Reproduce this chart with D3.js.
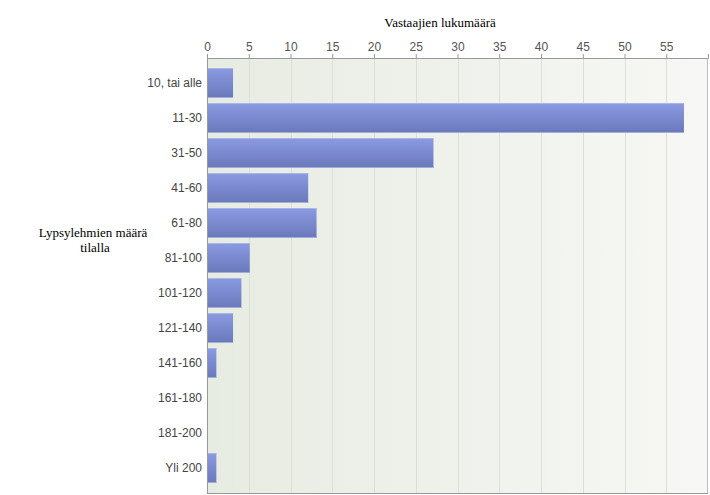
<!DOCTYPE html>
<html><head><meta charset="utf-8">
<script src="https://cdn.jsdelivr.net/npm/d3@7"></script>
<style>body{margin:0;background:#fff}svg{display:block}</style>
</head><body>
<svg id="c" width="710" height="495"></svg>
<script>
const categories = ["10, tai alle","11-30","31-50","41-60","61-80","81-100","101-120","121-140","141-160","161-180","181-200","Yli 200"];
const values = [3,57,27,12,13,5,4,3,1,0,0,1];
const ticks = [0,5,10,15,20,25,30,35,40,45,50,55];
const xTitle = "Vastaajien lukumäärä";
const yTitle = ["Lypsylehmien määrä","tilalla"];

const svg = d3.select("#c");
const L = 207, R = 708, T = 58, B = 493;
const x = d3.scaleLinear().domain([0,60]).range([L,R]);
const y = d3.scaleBand().domain(categories).range([T,B]).paddingInner(0.143).paddingOuter(0.286);

const defs = svg.append("defs");
const bg = defs.append("linearGradient").attr("id","bg").attr("x1","0").attr("x2","1").attr("y1","0").attr("y2","0");
bg.append("stop").attr("offset","0").attr("stop-color","#e7ece2");
bg.append("stop").attr("offset","1").attr("stop-color","#f7f8f5");
const bar = defs.append("linearGradient").attr("id","bar").attr("x1","0").attr("x2","0").attr("y1","0").attr("y2","1");
bar.append("stop").attr("offset","0").attr("stop-color","#8b9be2");
bar.append("stop").attr("offset","1").attr("stop-color","#6a78bb");

svg.append("rect").attr("x",L).attr("y",T).attr("width",R-L).attr("height",B-T).attr("fill","url(#bg)");

// gridlines
svg.append("g").selectAll("line").data(ticks.slice(1)).join("line")
  .attr("x1",d=>Math.round(x(d))+0.5).attr("x2",d=>Math.round(x(d))+0.5).attr("y1",T).attr("y2",B)
  .attr("stroke","#dcdfd8").attr("stroke-width",1);

// bars
const g = svg.append("g");
g.selectAll("rect.b").data(values).join("rect").attr("class","b")
  .attr("x",x(0)).attr("y",(d,i)=>y(categories[i]))
  .attr("width",d=>d>0?x(d)-x(0)+1:0).attr("height",y.bandwidth())
  .attr("fill","url(#bar)");
g.selectAll("rect.t").data(values).join("rect").attr("class","t")
  .attr("x",x(0)).attr("y",(d,i)=>y(categories[i]))
  .attr("width",d=>d>0?x(d)-x(0)+1:0).attr("height",d=>d>0?1:0)
  .attr("fill","#a9b4e8");
g.selectAll("rect.s").data(values).join("rect").attr("class","s")
  .attr("x",x(0)).attr("y",(d,i)=>y(categories[i])+y.bandwidth()-1)
  .attr("width",d=>d>0?x(d)-x(0)+1:0).attr("height",d=>d>0?1:0)
  .attr("fill","#a3adda");

// top axis
const xa = svg.append("g").attr("transform",`translate(0,${T})`)
  .call(d3.axisTop(x).tickValues(ticks).tickSize(4).tickPadding(3).tickFormat(d3.format("d")));
xa.select(".domain").attr("stroke","#999");
xa.selectAll(".tick line").attr("stroke","#999");
xa.selectAll("text").attr("fill","#555").style("font-family","'Liberation Sans', Arial, sans-serif").style("font-size","12px");

// right border
svg.append("line").attr("x1",R-0.5).attr("x2",R-0.5).attr("y1",T).attr("y2",B).attr("stroke","#bbb");

// left axis
const ya = svg.append("g").attr("transform",`translate(${L},0)`)
  .call(d3.axisLeft(y).tickSize(0).tickPadding(5));
ya.select(".domain").attr("stroke","#999");
ya.selectAll("text").attr("fill","#444").style("font-family","'Liberation Sans', Arial, sans-serif").style("font-size","12px");

// bottom line
svg.append("line").attr("x1",L).attr("x2",R).attr("y1",B+0.5).attr("y2",B+0.5).attr("stroke","#999");

// titles
svg.append("text").attr("x",440).attr("y",27).attr("text-anchor","middle")
  .attr("font-family","Liberation Serif, Times New Roman, serif").attr("font-size","13px").attr("fill","#000").text(xTitle);
svg.append("text").attr("x",93).attr("y",237).attr("text-anchor","middle")
  .attr("font-family","Liberation Serif, Times New Roman, serif").attr("font-size","13px").attr("fill","#000")
  .selectAll("tspan").data(yTitle).join("tspan").attr("x",(d,i)=>i?95:93).attr("dy",(d,i)=>i?15:0).text(d=>d);
</script>
</body></html>
